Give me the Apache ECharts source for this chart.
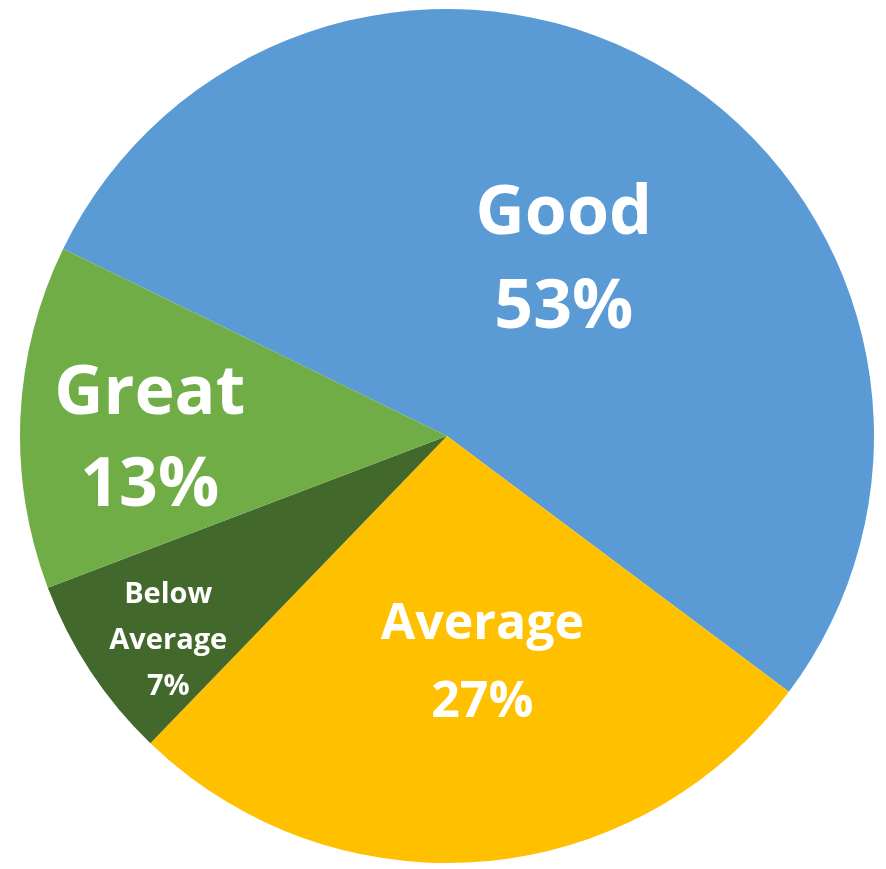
<!DOCTYPE html>
<html>
<head>
<meta charset="utf-8">
<script src="https://cdn.jsdelivr.net/npm/echarts@6/dist/echarts.min.js"></script>
<style>
  html, body { margin: 0; padding: 0; background: #ffffff; }
  #chart { width: 886px; height: 869px; }
</style>
</head>
<body>
<div id="chart"></div>
<script>
// Rating shares, in clockwise order from the top-left edge
const categories = ['Good', 'Average', 'Below Average', 'Great'];
const shares = [53, 27, 7, 13];

// Slice fill colours, same order as categories
const sliceColors = ['#5B9BD5', '#FFC000', '#43682B', '#70AD47'];

// Label typography and nudges from the default inside position
const labelStyles = [
  { fontSize: 68, lineHeight: 94, shift: [4, 10] },
  { fontSize: 50, lineHeight: 78, shift: [18, 12] },
  { fontSize: 29, lineHeight: 46, shift: [-98, 86] },
  { fontSize: 68, lineHeight: 92, shift: [-81, 14] }
];

const chart = echarts.init(document.getElementById('chart'), null, { renderer: 'canvas' });

const pieData = categories.map((name, i) => ({
  name: name,
  value: shares[i],
  itemStyle: { color: sliceColors[i] },
  label: {
    fontSize: labelStyles[i].fontSize,
    lineHeight: labelStyles[i].lineHeight
  }
}));

chart.setOption({
  backgroundColor: '#ffffff',
  animation: false,
  series: [{
    type: 'pie',
    center: [447, 436],
    radius: [0, 427],
    startAngle: 154,
    clockwise: true,
    avoidLabelOverlap: false,
    itemStyle: { borderWidth: 0 },
    label: {
      show: true,
      position: 'inside',
      color: '#ffffff',
      fontFamily: '"Open Sans", "Noto Sans", sans-serif',
      fontWeight: 'bold',
      align: 'center',
      formatter: p => p.name.replace(/ /g, '\n') + '\n' + p.value + '%'
    },
    labelLine: { show: false },
    labelLayout: p => ({
      dx: labelStyles[p.dataIndex].shift[0],
      dy: labelStyles[p.dataIndex].shift[1]
    }),
    emphasis: { disabled: true },
    data: pieData
  }]
});
</script>
</body>
</html>
